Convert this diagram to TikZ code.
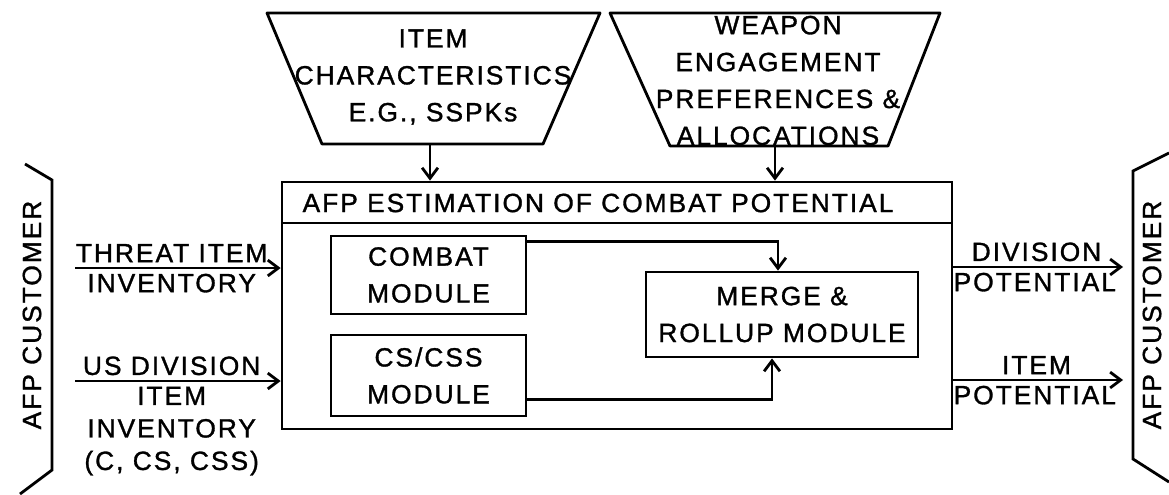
\documentclass[tikz,border=0pt]{standalone}
\usepackage{fontspec}
\setmainfont{Liberation Sans}[LetterSpace=7.5, FakeBold=1.2]
\usetikzlibrary{arrows.meta, positioning}

\begin{document}
\begin{tikzpicture}[
  x=0.02cm, y=-0.02cm,
  font=\fontsize{15}{21}\selectfont,
  frame/.style={rectangle, draw=black, line width=1.6pt, inner sep=0pt},
  modbox/.style={frame, minimum width=3.9cm, align=center},
  trapline/.style={draw=black, line width=1.6pt, line join=round},
  txt/.style={align=center, inner sep=0pt},
  lbl/.style={align=center, inner sep=2.5pt, font=\fontsize{15}{18.5}\selectfont},
  custtxt/.style={rotate=90, inner sep=0pt},
  arr/.style={-{Straight Barb[length=6pt, width=9pt]}, line width=1.6pt}
]
\useasboundingbox (0,0) rectangle (1169,494);

% --- Inputs on top ---
\node[txt] (itemtxt) at (433,77) {ITEM\\CHARACTERISTICS\\E.G., SSPKs};
\node[txt] (weaptxt) at (778,80.5) {WEAPON\\ENGAGEMENT\\PREFERENCES \&\\ALLOCATIONS};
\draw[trapline] (267,13) -- (600,13) -- (543,144) -- (322,144) -- cycle;
\draw[trapline] (610,13) -- (940,13) -- (888,146) -- (670,146) -- cycle;
\coordinate (itembot) at (430,144);
\coordinate (weapbot) at (775,146);

% --- AFP box ---
\node[frame, minimum width=13.4cm, minimum height=4.94cm] (afp) at (617,305.5) {};
\node[frame, minimum width=13.4cm, minimum height=0.82cm, anchor=north] (est) at (afp.north) {};
\node[txt] (esttxt) at (598,203) {AFP ESTIMATION OF COMBAT POTENTIAL};

\node[modbox, minimum height=1.56cm] (combat) at (428.5,275) {COMBAT\\MODULE};
\node[modbox, minimum height=1.62cm] (cs) at (428.5,375.5) {CS/CSS\\MODULE};
\node[frame, minimum width=5.44cm, minimum height=1.7cm, align=center] (merge) at (782,314.5)
      {MERGE \&\\ROLLUP MODULE};

\draw[arr] (itembot) -- (itembot |- est.north);
\draw[arr] (weapbot) -- (weapbot |- est.north);

\draw[arr] ([yshift=-0.14cm]combat.north east) -| ([xshift=-0.08cm]merge.north);
\draw[arr] ([yshift=0.36cm]cs.south east) -| ([xshift=-0.2cm]merge.south);

% --- Customers ---
\node[custtxt] (custL) at (32,315) {AFP CUSTOMER};
\node[custtxt] (custR) at (1152,315) {AFP CUSTOMER};
\draw[line width=1.6pt] (25,164) -- (52,180) -- (52,470) -- (20,494);
\draw[line width=1.6pt] (1169,153) -- (1133,171) -- (1133,459) -- (1169,482);

% --- Flows in and out ---
\coordinate (thrin) at (75,268);
\coordinate (usin) at (75,381);
\coordinate (divout) at (1123,267);
\coordinate (itout) at (1123,380);

\draw[arr] (thrin) -- (thrin -| afp.west)
  node[lbl, pos=0.47, above] {THREAT ITEM} node[lbl, pos=0.47, below] {INVENTORY};
\draw[arr] (usin) -- (usin -| afp.west)
  node[lbl, pos=0.47, above] {US DIVISION} node[lbl, pos=0.47, below] {ITEM\\INVENTORY\\(C, CS, CSS)};
\draw[arr] (divout -| afp.east) -- (divout)
  node[lbl, pos=0.49, above] {DIVISION} node[lbl, pos=0.48, below] {POTENTIAL};
\draw[arr] (itout -| afp.east) -- (itout)
  node[lbl, pos=0.49, above] {ITEM} node[lbl, pos=0.48, below] {POTENTIAL};

\end{tikzpicture}
\end{document}
